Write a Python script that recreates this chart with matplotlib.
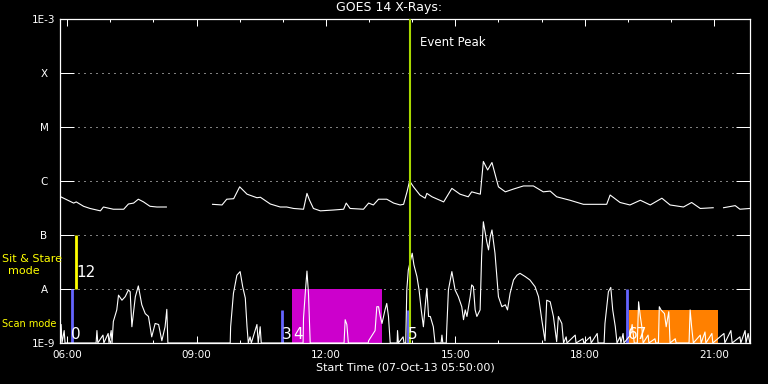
import numpy as np
import matplotlib.pyplot as plt
from matplotlib.ticker import MultipleLocator, NullLocator

plt.rcParams['font.family'] = ['DejaVu Sans']
plt.rcParams['lines.scale_dashes'] = False

# -------------------------
# Data (hours UT, 07-Oct-13)
# -------------------------

# GOES long channel (1-8 A), flux in units of 1e-7 W/m^2, nan = data gap
long_hours = [5.85, 6.15, 6.21, 6.38, 6.53, 6.77, 6.84, 7.07, 7.31, 7.42, 7.54, 7.65,
              7.77, 7.92, 8.08, 8.30, 8.80,
              9.37, 9.59, 9.70, 9.86, 10.00, 10.17, 10.40, 10.48, 10.71, 10.94,
              11.09, 11.25, 11.48, 11.56, 11.62, 11.71, 11.87, 12.17, 12.41, 12.47,
              12.56, 12.87, 12.99, 13.10, 13.22, 13.41, 13.57, 13.72, 13.80, 13.88,
              13.94, 14.03, 14.18, 14.30, 14.34, 14.46, 14.73, 14.92, 15.11, 15.30,
              15.38, 15.58, 15.65, 15.75, 15.85, 16.00, 16.16, 16.35, 16.58, 16.81,
              17.04, 17.20, 17.35, 17.66, 17.97, 18.51, 18.59, 18.82, 19.05, 19.29,
              19.52, 19.79, 19.98, 20.29, 20.48, 20.68, 20.98, 21.10,
              21.22, 21.49, 21.60, 21.83]
long_flux = [5.1, 3.9, 4.1, 3.4, 3.1, 2.8, 3.3, 3.0, 3.0, 3.75, 3.9, 4.6,
             4.1, 3.4, 3.3, 3.3, np.nan,
             3.7, 3.6, 4.6, 4.7, 7.8, 5.7, 4.9, 5.0, 3.75, 3.3,
             3.3, 3.1, 3.0, 5.9, 4.4, 3.1, 2.8, 2.9, 3.0, 3.9,
             3.1, 3.0, 3.9, 3.6, 4.6, 4.6, 3.9, 3.6, 3.7, 6.3,
             10.0, 7.8, 5.5, 4.8, 5.9, 5.1, 4.1, 7.3, 5.7, 5.1,
             6.3, 5.7, 23.0, 16.0, 22.0, 7.8, 6.3, 7.1, 8.1, 8.1,
             6.3, 6.5, 5.1, 4.4, 3.7, 3.7, 5.5, 4.0, 3.6, 4.4,
             3.6, 4.8, 3.6, 3.3, 4.0, 3.1, 3.2, np.nan,
             3.2, 3.5, 3.0, 3.1]

# GOES short channel (0.5-4 A), flux in units of 1e-9 W/m^2 (1.0 = plot floor)
short_hours = [5.84, 5.86, 5.88, 5.93, 5.95, 6.67, 6.69, 6.71, 6.83, 6.85, 6.95, 6.97,
               7.02, 7.04, 7.07, 7.15, 7.19, 7.27, 7.345, 7.42, 7.46, 7.50, 7.58, 7.65,
               7.73, 7.81, 7.885, 7.96, 8.04, 8.12, 8.195, 8.27, 8.31, 8.335,
               9.78, 9.79, 9.855, 9.935, 10.01, 10.07, 10.13, 10.17, 10.20, 10.24,
               10.27, 10.40, 10.43, 10.475, 10.50,
               11.47, 11.48, 11.52, 11.56, 11.595, 11.635, 12.42, 12.446, 12.485, 12.52,
               12.98, 12.99, 13.14, 13.18, 13.22, 13.26, 13.30, 13.37, 13.41, 13.45,
               13.49, 13.65, 13.66, 13.68, 13.79, 13.81, 13.85, 13.875, 13.91, 14.00,
               14.04, 14.11, 14.16, 14.21, 14.26, 14.30, 14.34, 14.38, 14.42, 14.49,
               14.53, 14.67, 14.69, 14.71, 14.79, 14.80, 14.84, 14.92, 14.995, 15.07,
               15.15, 15.19, 15.23, 15.27, 15.345, 15.38, 15.42, 15.46, 15.50, 15.575,
               15.61, 15.65, 15.73, 15.77, 15.81, 15.85, 15.92, 16.00, 16.08, 16.16,
               16.21, 16.27, 16.35, 16.43, 16.50, 16.62, 16.73, 16.85, 16.93, 17.005,
               17.08, 17.12, 17.20, 17.275, 17.35, 17.39, 17.47, 17.51, 17.57, 17.59,
               17.78, 17.80, 17.96, 17.98, 18.13, 18.15, 18.29, 18.31, 18.45, 18.47,
               18.55, 18.605, 18.65, 18.71, 18.75, 18.82, 18.84, 18.89, 18.91, 19.06,
               19.10, 19.15, 19.22, 19.25, 19.29, 19.325, 19.355, 19.47, 19.49, 19.63,
               19.65, 19.71, 19.73, 19.77, 19.85, 19.89, 19.95, 19.98, 20.10, 20.12,
               20.42, 20.445, 20.48, 20.52, 20.68, 20.70, 20.79, 20.81, 20.95, 20.97,
               21.23, 21.25, 21.39, 21.42, 21.60, 21.62, 21.72, 21.74, 21.79, 21.83]
short_flux = [1.0, 2.2, 1.0, 1.7, 1.0, 1.0, 1.7, 1.0, 1.4, 1.0, 1.5, 1.0,
              1.7, 1.0, 2.5, 4.1, 7.7, 6.2, 7.2, 9.6, 8.9, 2.0, 7.2, 11.4,
              5.1, 3.5, 3.1, 1.3, 2.3, 2.2, 1.1, 2.0, 4.2, 1.0,
              1.0, 2.0, 8.3, 18.0, 21.0, 11.0, 6.8, 2.0, 1.0, 1.3,
              1.0, 2.2, 1.0, 2.0, 1.0,
              1.0, 2.9, 8.3, 21.5, 8.3, 1.0, 1.0, 2.7, 2.2, 1.0,
              1.0, 1.1, 1.7, 4.7, 4.7, 3.1, 2.3, 4.1, 5.4, 3.1,
              1.0, 1.0, 1.7, 1.0, 1.3, 1.0, 1.0, 9.6, 22.5, 46.0,
              28.0, 17.0, 9.6, 4.1, 2.0, 4.7, 10.3, 3.1, 3.1, 2.0,
              1.0, 1.0, 1.4, 1.0, 1.0, 1.7, 9.6, 21.0, 9.6, 7.2,
              4.7, 2.7, 4.1, 3.1, 7.2, 11.9, 11.0, 4.1, 3.1, 4.1,
              40.0, 176.0, 75.0, 53.0, 93.0, 124.0, 46.0, 7.2, 4.7, 5.1,
              4.1, 8.3, 14.7, 18.0, 19.5, 17.0, 14.7, 11.0, 7.2, 2.7,
              1.1, 6.2, 5.8, 3.1, 1.06, 3.1, 2.3, 1.0, 1.3, 1.0,
              1.4, 1.0, 1.2, 1.0, 1.3, 1.0, 1.5, 1.0, 1.0, 2.3,
              8.9, 10.7, 4.1, 2.0, 1.0, 1.3, 1.0, 1.5, 1.0, 1.4,
              2.2, 1.0, 1.0, 5.8, 3.1, 2.0, 1.0, 1.4, 1.0, 1.2,
              1.0, 1.0, 4.7, 4.1, 3.5, 2.0, 3.8, 1.0, 1.2, 1.0,
              1.0, 4.1, 2.0, 1.0, 1.4, 1.0, 1.6, 1.0, 1.5, 1.0,
              1.5, 1.0, 1.7, 1.0, 1.3, 1.0, 1.7, 1.0, 1.5, 1.0]

# observation markers
scan_hours = [6.116, 10.974, 13.907, 18.974]
scan_tops = [1e-8, 4e-9, 4e-9, 1e-8]
stare_hour = 6.197
stare_range = [1e-8, 1e-7]
magenta_span = [11.217, 13.297]
magenta_top = 1e-8
orange_span = [19.032, 21.089]
orange_top = 4e-9
peak_hour = 13.96

obs_labels = ['0', '12', '3', '4', '5', '67']
obs_label_hours = [6.10, 6.22, 10.97, 11.24, 13.89, 19.00]
obs_label_levels = [1.2e-9, 1.67e-8, 1.2e-9, 1.2e-9, 1.2e-9, 1.2e-9]

flux_levels = [1e-9, 1e-8, 1e-7, 1e-6, 1e-5, 1e-4, 1e-3]
flux_names = ['1E-9', 'A', 'B', 'C', 'M', 'X', '1E-3']
time_ticks = [6, 9, 12, 15, 18, 21]
time_names = ['06:00', '09:00', '12:00', '15:00', '18:00', '21:00']
t_start, t_end = 5 + 50 / 60, 21 + 50 / 60

# -------------------------
# Plot
# -------------------------

W, H = 768, 384
fig = plt.figure(figsize=(W / 100, H / 100), dpi=100, facecolor='black')
ax = fig.add_axes([60 / W, 41 / H, 690 / W, 324 / H], facecolor='black')
ax.set_yscale('log')
ax.set_xlim(t_start, t_end)
ax.set_ylim(flux_levels[0], flux_levels[-1])

for v in flux_levels[1:-1]:
    ax.axhline(v, color='white', lw=0.72, ls=(0, (0.72, 3.6)), zorder=1)

ax.fill_between(magenta_span, flux_levels[0], magenta_top, color='#cc00cc', lw=0, zorder=2)
ax.fill_between(orange_span, flux_levels[0], orange_top, color='#ff8000', lw=0, zorder=2)
ax.vlines(scan_hours, flux_levels[0], scan_tops, color='#6464ff', lw=2.0, zorder=2)
ax.vlines(stare_hour, stare_range[0], stare_range[1], color='#ffff00', lw=2.0, zorder=2)

ax.plot(long_hours, np.array(long_flux) * 1e-7, color='white', lw=0.8, zorder=3)
ax.plot(short_hours, np.array(short_flux) * 1e-9, color='white', lw=0.8, zorder=3)

ax.axvline(peak_hour, color='#a8d800', lw=1.5, zorder=4)
ax.text(peak_hour + 0.23, 3.6e-4, 'Event Peak', color='white', fontsize=8.5,
        ha='left', va='center')

for lab, h, lev in zip(obs_labels, obs_label_hours, obs_label_levels):
    ax.text(h, lev, lab, color='white', fontsize=11, ha='left', va='baseline', zorder=5)

for sp in ax.spines.values():
    sp.set_color('white')
    sp.set_linewidth(0.9)

ax.set_xticks(time_ticks)
ax.set_xticklabels(time_names)
ax.xaxis.set_minor_locator(MultipleLocator(1))
ax.tick_params(axis='x', which='major', direction='in', length=5, width=0.72,
               top=True, bottom=True, color='white', labelcolor='white',
               labelsize=7.5, pad=5)
ax.tick_params(axis='x', which='minor', direction='in', length=2.5, width=0.72,
               top=True, bottom=True, color='white')

ax.set_yticks(flux_levels)
ax.set_yticklabels(flux_names)
ax.yaxis.set_minor_locator(NullLocator())
ax.tick_params(axis='y', which='major', direction='in', length=10, width=0.72,
               left=True, right=True, color='white', labelcolor='white',
               labelsize=7.5, pad=11.5)
for lab in ax.get_yticklabels():
    lab.set_horizontalalignment('center')

ax.set_xlabel('Start Time (07-Oct-13 05:50:00)', color='white', fontsize=8)
ax.xaxis.set_label_coords(0.5, -25 / 324)
ax.xaxis.label.set_verticalalignment('center')

fig.text(389 / W, 1 - 8 / H, 'GOES 14 X-Rays:', color='white', fontsize=9,
         ha='center', va='center')
fig.text(2 / W, 1 - 259 / H, 'Sit & Stare', color='#ffff00', fontsize=8,
         ha='left', va='center')
fig.text(24 / W, 1 - 271 / H, 'mode', color='#ffff00', fontsize=8,
         ha='center', va='center')
fig.text(2 / W, 1 - 324 / H, 'Scan mode', color='#ffff00', fontsize=7,
         ha='left', va='center')

fig.savefig('out.png', dpi=100, facecolor='black')
